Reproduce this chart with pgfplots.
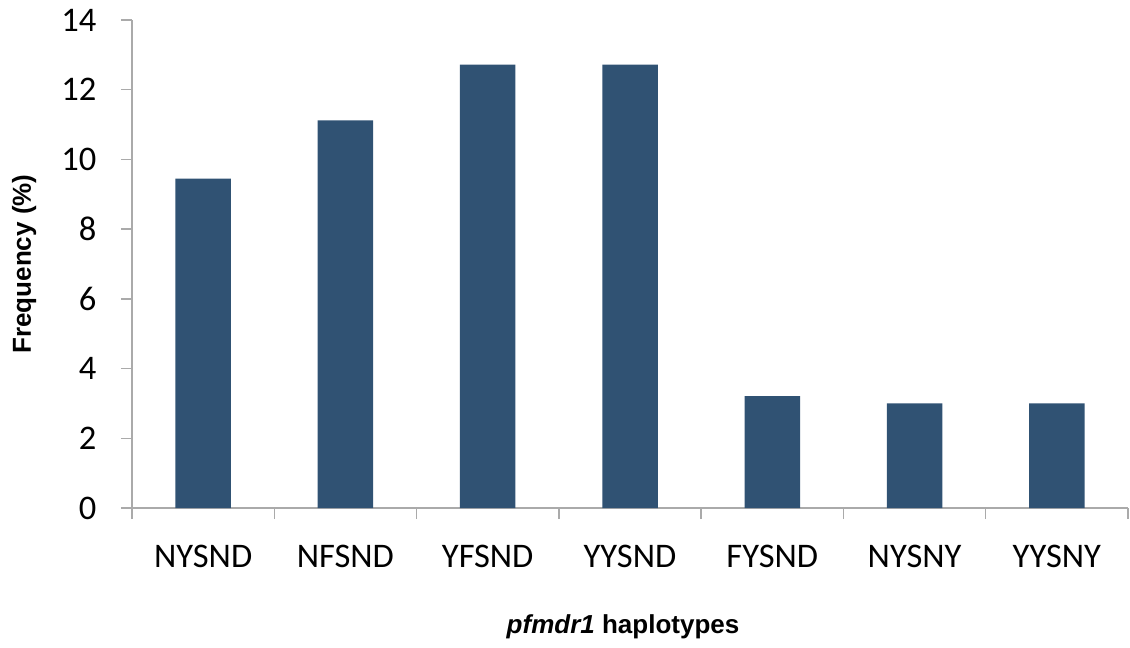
\documentclass[border=0pt]{standalone}
\usepackage{pgfplots}
\pgfplotsset{compat=1.18}
\usepackage{fontspec}
\setmainfont{Carlito}
\newfontfamily\labelfont{Liberation Sans}

\definecolor{barblue}{RGB}{48,82,115}
\definecolor{axisgray}{RGB}{170,170,170}

\begin{document}
\begin{tikzpicture}
    \begin{axis}[
            name=ax,
            scale only axis,
            width=996pt,
            height=488pt,
            ybar,
            bar width=0.39,
            xmin=-0.5, xmax=6.5,
            ymin=0, ymax=14,
            ytick={0,2,...,14},
            xtick={-0.5,0.5,...,6.5},
            x tick label as interval,
            xticklabels={NYSND,NFSND,YFSND,YYSND,FYSND,NYSNY,YYSNY},
            axis x line=bottom,
            axis y line=left,
            axis line style={-, draw=axisgray, line width=1.5pt},
            tick style={draw=axisgray, line width=1.5pt},
            tick align=outside,
            major tick length=11pt,
            /pgf/number format/assume math mode=true,
            ticklabel style={font=\fontsize{34.5}{40}\selectfont, text=black},
            xticklabel style={yshift=-23pt},
            yticklabel style={xshift=-21pt},
            ylabel={Frequency (\%)},
            xlabel={\itshape pfmdr1\upshape\ haplotypes},
            every axis y label/.style={at={(axis description cs:-0.1084,0.5)}, rotate=90, anchor=center,
                font=\labelfont\bfseries\fontsize{26}{30}\selectfont},
            every axis x label/.style={at={(axis description cs:0.493,-0.2439)}, anchor=center,
                font=\labelfont\bfseries\fontsize{26}{30}\selectfont},
        ]
\addplot[fill=barblue, draw=none] coordinates {
(0,9.45)
(1,11.12)
(2,12.72)
(3,12.72)
(4,3.21)
(5,3.0)
(6,3.0)
};
    \coordinate (bl) at (rel axis cs:0,0);
    \coordinate (tr) at (rel axis cs:1,1);
    \end{axis}
    \pgfresetboundingbox
    \path ([xshift=-132pt,yshift=-139pt]bl) rectangle ([xshift=2pt,yshift=20pt]tr);
\end{tikzpicture}
\end{document}
